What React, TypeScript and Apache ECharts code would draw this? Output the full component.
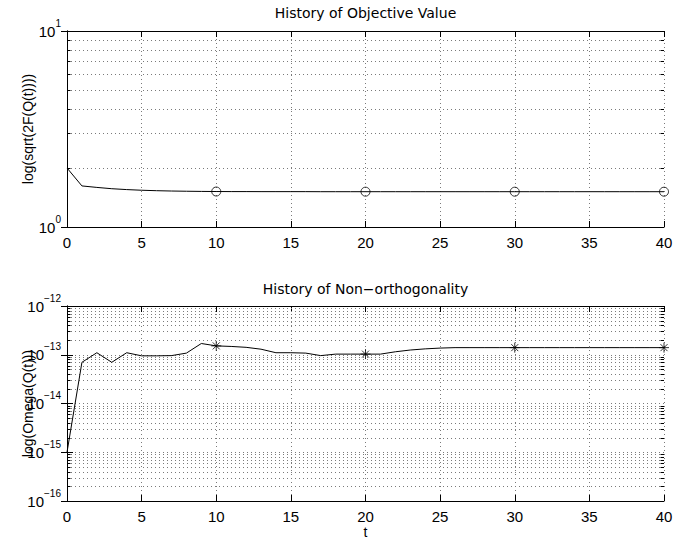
import React, { useEffect, useRef } from "react";
import * as echarts from "echarts";

// ---- data ----
const tValues: number[] = Array.from({ length: 41 }, (_, i) => i);

const objectiveValues: number[] = [
  2.0, 1.62, 1.592, 1.568, 1.552, 1.54, 1.532, 1.526, 1.522, 1.519, 1.517,
  1.516, 1.516, 1.515, 1.515, 1.515, 1.515, 1.514, 1.514, 1.514, 1.514,
  1.514, 1.514, 1.514, 1.514, 1.514, 1.514, 1.514, 1.514, 1.514, 1.514,
  1.514, 1.514, 1.514, 1.514, 1.514, 1.514, 1.514, 1.514, 1.514, 1.514,
];

const nonOrthValues: number[] = [
  1.0e-15, 7.0e-14, 1.1e-13, 7.0e-14, 1.1e-13, 9.5e-14, 9.5e-14, 9.6e-14,
  1.08e-13, 1.7e-13, 1.52e-13, 1.48e-13, 1.42e-13, 1.3e-13, 1.1e-13, 1.1e-13,
  1.08e-13, 9.6e-14, 1.03e-13, 1.03e-13, 1.03e-13, 1.03e-13, 1.15e-13,
  1.25e-13, 1.32e-13, 1.37e-13, 1.4e-13, 1.4e-13, 1.4e-13, 1.4e-13, 1.4e-13,
  1.4e-13, 1.4e-13, 1.4e-13, 1.4e-13, 1.4e-13, 1.4e-13, 1.4e-13, 1.4e-13,
  1.4e-13, 1.4e-13,
];

const markerTs: number[] = [10, 20, 30, 40];

const xTickInterval = 5;
const xMin = 0;
const xMax = 40;

const topYMin = 1;
const topYMax = 10;
const botYMin = 1e-16;
const botYMax = 1e-12;

const minorMantissas: number[] = [2, 3, 4, 5, 6, 7, 8, 9];
const topDecades: number[] = [1];
const botDecades: number[] = [1e-16, 1e-15, 1e-14, 1e-13];

const titleTop = "History of Objective Value";
const titleBottom = "History of Non\u2212orthogonality";
const yNameTop = "log(sqrt(2F(Q(t))))";
const yNameBottom = "log(Omega(Q(t)))";
const xNameBottom = "t";

const FONT = '"Liberation Sans", Arial, Helvetica, sans-serif';
const TITLE_FONT = '"DejaVu Sans", "Liberation Sans", Arial, sans-serif';
const GRID_COLOR = "#7a7a7a";

function minorValues(decades: number[]): number[][] {
  const out: number[][] = [];
  decades.forEach((d) => minorMantissas.forEach((m) => out.push([xMin, m * d])));
  return out;
}

function logLabel(v: number): string {
  const e = Math.round(Math.log10(v));
  const es = e < 0 ? "\u2212" + String(-e) : String(e);
  return `{b|10}{e|${es}}`;
}

const richLabel = {
  b: { fontSize: 15, lineHeight: 26, fontFamily: FONT, color: "#000", verticalAlign: "middle" },
  e: { fontSize: 10, lineHeight: 12, fontFamily: FONT, color: "#000", verticalAlign: "top" },
};

function minorRender(params: any, api: any) {
  const v = api.value(1);
  const p1 = api.coord([xMin, v]);
  const p2 = api.coord([xMax, v]);
  const y = Math.round(p1[1]) + 0.5;
  return {
    type: "group",
    children: [
      { type: "line", shape: { x1: p1[0], y1: y, x2: p2[0], y2: y }, style: { stroke: GRID_COLOR, lineWidth: 1, lineDash: [1, 3] } },
      { type: "line", shape: { x1: p1[0], y1: y, x2: p1[0] + 3.5, y2: y }, style: { stroke: "#000", lineWidth: 1 } },
      { type: "line", shape: { x1: p2[0] - 3.5, y1: y, x2: p2[0], y2: y }, style: { stroke: "#000", lineWidth: 1 } },
    ],
  };
}

function xAxisDef(gridIndex: number, bottom: boolean, showLabel: boolean, name?: string) {
  return {
    type: "value",
    gridIndex,
    position: bottom ? "bottom" : "top",
    min: xMin,
    max: xMax,
    interval: xTickInterval,
    name: name || "",
    nameLocation: "middle",
    nameGap: 24,
    nameMoveOverlap: false,
    nameTextStyle: { fontSize: 14, fontFamily: FONT, color: "#000" },
    axisLine: { show: true, onZero: false, lineStyle: { color: "#000", width: 1 } },
    axisTick: { show: true, inside: true, length: 6, lineStyle: { color: "#000" } },
    axisLabel: { show: showLabel, fontSize: 15, fontFamily: FONT, color: "#000", margin: 8 },
    splitLine: { show: bottom, lineStyle: { color: GRID_COLOR, width: 1, type: [1, 3] } },
  };
}

function yAxisDef(gridIndex: number, left: boolean, min: number, max: number, name?: string) {
  return {
    type: "log",
    logBase: 10,
    gridIndex,
    position: left ? "left" : "right",
    min,
    max,
    name: name || "",
    nameLocation: "middle",
    nameRotate: 90,
    nameGap: 32,
    nameMoveOverlap: false,
    nameTextStyle: { fontSize: 14, fontFamily: FONT, color: "#000" },
    axisLine: { show: true, lineStyle: { color: "#000", width: 1 } },
    axisTick: { show: true, inside: true, length: 6, lineStyle: { color: "#000" } },
    axisLabel: {
      show: left,
      showMinLabel: true,
      showMaxLabel: true,
      margin: 6,
      formatter: logLabel,
      rich: richLabel,
    },
    splitLine: { show: left, lineStyle: { color: GRID_COLOR, width: 1, type: [1, 3] } },
  };
}

export default function App() {
  const ref = useRef<HTMLDivElement>(null);

  useEffect(() => {
    if (!ref.current) return;
    document.body.style.margin = "0";
    const chart = echarts.init(ref.current, undefined, { renderer: "svg" });

    const objData = tValues.map((t, i) => [t, objectiveValues[i]]);
    const nonData = tValues.map((t, i) => [t, nonOrthValues[i]]);
    const objMarks = markerTs.map((t) => [t, objectiveValues[tValues.indexOf(t)]]);
    const nonMarks = markerTs.map((t) => [t, nonOrthValues[tValues.indexOf(t)]]);

    chart.setOption({
      animation: false,
      backgroundColor: "#fff",
      textStyle: { fontFamily: FONT },
      grid: [
        { left: 67, right: 9, top: 31, height: 196, containLabel: false, outerBoundsMode: "none" },
        { left: 67, right: 9, top: 306, height: 195, containLabel: false, outerBoundsMode: "none" },
      ],
      graphic: [
        { type: "text", x: 365.5, y: 13, style: { text: titleTop, fontSize: 14, fontFamily: TITLE_FONT, fill: "#000", align: "center", verticalAlign: "middle" } },
        { type: "text", x: 365.5, y: 289, style: { text: titleBottom, fontSize: 14, fontFamily: TITLE_FONT, fill: "#000", align: "center", verticalAlign: "middle" } },
      ],
      xAxis: [
        xAxisDef(0, true, true),
        xAxisDef(0, false, false),
        xAxisDef(1, true, true, xNameBottom),
        xAxisDef(1, false, false),
      ],
      yAxis: [
        yAxisDef(0, true, topYMin, topYMax, yNameTop),
        yAxisDef(0, false, topYMin, topYMax),
        yAxisDef(1, true, botYMin, botYMax, yNameBottom),
        yAxisDef(1, false, botYMin, botYMax),
      ],
      series: [
        {
          type: "custom",
          xAxisIndex: 0,
          yAxisIndex: 0,
          renderItem: minorRender,
          data: minorValues(topDecades),
          encode: { x: 0, y: 1 },
          silent: true,
          clip: false,
          z: 1,
        },
        {
          type: "custom",
          xAxisIndex: 2,
          yAxisIndex: 2,
          renderItem: minorRender,
          data: minorValues(botDecades),
          encode: { x: 0, y: 1 },
          silent: true,
          clip: false,
          z: 1,
        },
        {
          type: "line",
          xAxisIndex: 0,
          yAxisIndex: 0,
          data: objData,
          showSymbol: false,
          symbol: "none",
          lineStyle: { color: "#000", width: 1 },
          z: 3,
        },
        {
          type: "scatter",
          xAxisIndex: 0,
          yAxisIndex: 0,
          data: objMarks,
          symbol: "circle",
          symbolSize: 9,
          itemStyle: { color: "rgba(0,0,0,0)", borderColor: "#000", borderWidth: 1 },
          clip: false,
          z: 4,
        },
        {
          type: "line",
          xAxisIndex: 2,
          yAxisIndex: 2,
          data: nonData,
          showSymbol: false,
          symbol: "none",
          lineStyle: { color: "#000", width: 1 },
          z: 3,
        },
        {
          type: "scatter",
          xAxisIndex: 2,
          yAxisIndex: 2,
          data: nonMarks,
          symbol: "path://M5,0L5,10M0,5L10,5M1.5,1.5L8.5,8.5M8.5,1.5L1.5,8.5",
          symbolSize: 10,
          itemStyle: { color: "rgba(0,0,0,0)", borderColor: "#000", borderWidth: 1 },
          clip: false,
          z: 4,
        },
      ],
    });

    return () => chart.dispose();
  }, []);

  return (
    <div
      ref={ref}
      style={{ position: "fixed", left: 0, top: 0, width: 673, height: 539, background: "#fff" }}
    />
  );
}
